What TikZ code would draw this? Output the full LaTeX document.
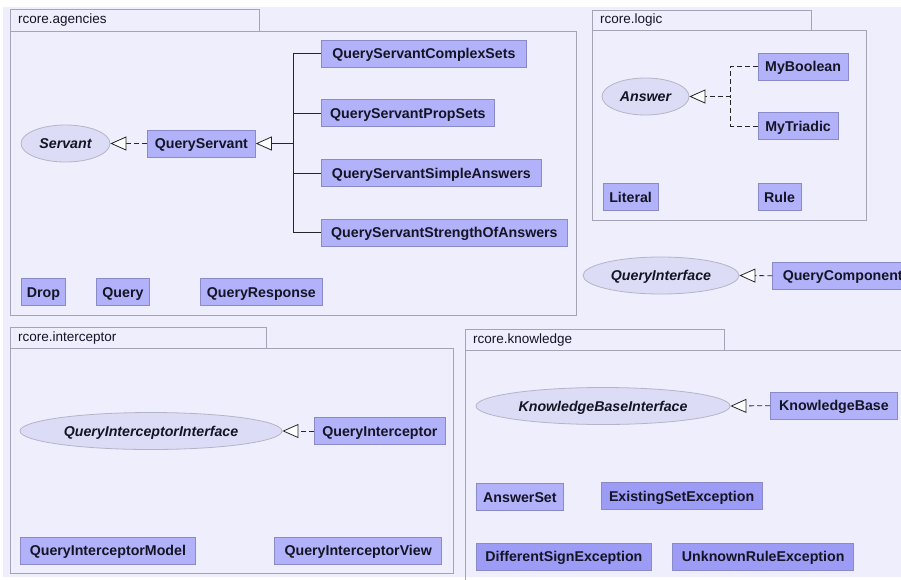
\documentclass[tikz,border=0pt]{standalone}
\usepackage{fontspec}
\setmainfont{Liberation Sans}
\usetikzlibrary{arrows.meta,shapes.geometric}
\definecolor{bgc}{HTML}{EEEEFC}
\definecolor{pkgline}{HTML}{A4A4B4}
\definecolor{clsfill}{HTML}{B2B2FA}
\definecolor{clsline}{HTML}{8A8AC8}
\definecolor{excfill}{HTML}{9C9CF6}
\definecolor{ellfill}{HTML}{DCDCF6}
\definecolor{ellline}{HTML}{B4B4C8}
\definecolor{txt}{HTML}{141424}
\tikzset{
  x=1pt, y=-1pt,
  pkg/.style={draw=pkgline, line width=0.8pt},
  pkglabel/.style={anchor=west, inner sep=0pt, font=\fontsize{13.5}{15}\selectfont, text=txt},
  cls/.style={draw=clsline, fill=clsfill, line width=0.8pt, anchor=west, minimum height=27pt, inner xsep=5pt, inner ysep=0pt, text height=13pt, text depth=3pt, font=\fontsize{14.2}{16}\selectfont\bfseries, text=txt},
  exc/.style={cls, fill=excfill},
  iface/.style={ellipse, draw=ellline, fill=ellfill, line width=0.8pt, inner sep=0pt, minimum height=37pt, text height=13pt, text depth=3pt, font=\fontsize{14.2}{16}\selectfont\bfseries\itshape, text=txt},
  tri/.style={-{Triangle[open, length=16pt, width=14pt, fill=white]}, line width=0.8pt, draw=black!85},
  realize/.style={tri, dash pattern=on 5pt off 3pt},
  gen/.style={line width=0.8pt, draw=black!85},
  dgen/.style={gen, dash pattern=on 5pt off 3pt},
}
\begin{document}
\begin{tikzpicture}
\useasboundingbox (0,0) rectangle (901,579);
\fill[white] (0,0) rectangle (901,579);
\fill[bgc] (3,7) rectangle (901,577);

% ---------- rcore.agencies ----------
\draw[pkg] (10,9) rectangle (259,31);
\draw[pkg] (10,31) rectangle (576,315);
\node[pkglabel] (lagencies) at (18,20) {rcore.agencies};

\node[iface, minimum width=89pt] (serv) at (65.5,143.5) {Servant};
\node[cls, minimum width=108pt] (qs) at (147,143.5) {QueryServant};
\node[cls, minimum width=205pt] (qsc) at (321,53.5) {QueryServantComplexSets};
\node[cls, minimum width=173pt] (qsp) at (321,113) {QueryServantPropSets};
\node[cls, minimum width=220pt] (qssa) at (321,173) {QueryServantSimpleAnswers};
\node[cls, minimum width=246pt] (qsso) at (321,232.5) {QueryServantStrengthOfAnswers};
\coordinate (busA) at (293,143.5);
\draw[realize] (qs.west) -- (serv.east);
\draw[gen] (qsc.west) -| (busA);
\draw[gen] (qsp.west) -| (busA);
\draw[gen] (qssa.west) -| (busA);
\draw[gen] (qsso.west) -| (busA);
\draw[tri] (busA) -- (qs.east);

\node[cls, minimum width=44pt] (drop) at (21,292) {Drop};
\node[cls, minimum width=53pt] (query) at (96,292) {Query};
\node[cls, minimum width=122pt] (qresp) at (200,292) {QueryResponse};

% ---------- rcore.logic ----------
\draw[pkg] (592,10.5) rectangle (811,30.5);
\draw[pkg] (592,30.5) rectangle (866.5,220);
\node[pkglabel] (llogic) at (600,20.5) {rcore.logic};

\node[iface, minimum width=87pt] (ans) at (645.5,96.5) {Answer};
\node[cls, minimum width=90pt] (mybool) at (757.7,66.5) {MyBoolean};
\node[cls, minimum width=80pt] (mytri) at (757.7,126) {MyTriadic};
\coordinate (busL) at (730.5,96.5);
\draw[dgen] (mybool.west) -| (busL);
\draw[dgen] (mytri.west) -| (busL);
\draw[realize] (busL) -- (ans.east);
\node[cls, minimum width=55pt] (literal) at (602.7,197) {Literal};
\node[cls, minimum width=43pt] (rule) at (757.7,197) {Rule};

% ---------- free ----------
\node[iface, minimum width=156pt] (qiface) at (661,275.5) {QueryInterface};
\node[cls, minimum width=140pt] (qcomp) at (772.3,275.7) {QueryComponent};
\draw[realize] (qcomp.west) -- (qiface.east);

% ---------- rcore.interceptor ----------
\draw[pkg] (10,327.3) rectangle (266,348.3);
\draw[pkg] (10,348.3) rectangle (453.5,573.3);
\node[pkglabel] (linter) at (18,338) {rcore.interceptor};

\node[iface, minimum width=262pt] (qii) at (151,431) {QueryInterceptorInterface};
\node[cls, minimum width=131pt] (qi) at (314,431) {QueryInterceptor};
\draw[realize] (qi.west) -- (qii.east);
\node[cls, minimum width=175pt] (qim) at (20,550.5) {QueryInterceptorModel};
\node[cls, minimum width=167pt] (qiv) at (274.3,550.5) {QueryInterceptorView};

% ---------- rcore.knowledge ----------
\draw[pkg] (465,329.3) rectangle (724,350);
\draw[pkg] (465,350) -- (910,350);
\draw[pkg] (465,350) -- (465,590);
\node[pkglabel] (lknow) at (473,340) {rcore.knowledge};

\node[iface, minimum width=254pt] (kbi) at (603,406) {KnowledgeBaseInterface};
\node[cls, minimum width=127pt] (kb) at (770,405.7) {KnowledgeBase};
\draw[realize] (kb.west) -- (kbi.east);
\node[cls, minimum width=87pt] (aset) at (476,497) {AnswerSet};
\node[exc, minimum width=161pt] (ese) at (600.7,496.2) {ExistingSetException};
\node[exc, minimum width=175pt] (dse) at (476,556.7) {DifferentSignException};
\node[exc, minimum width=181pt] (ure) at (672.3,556.7) {UnknownRuleException};
\end{tikzpicture}
\end{document}
